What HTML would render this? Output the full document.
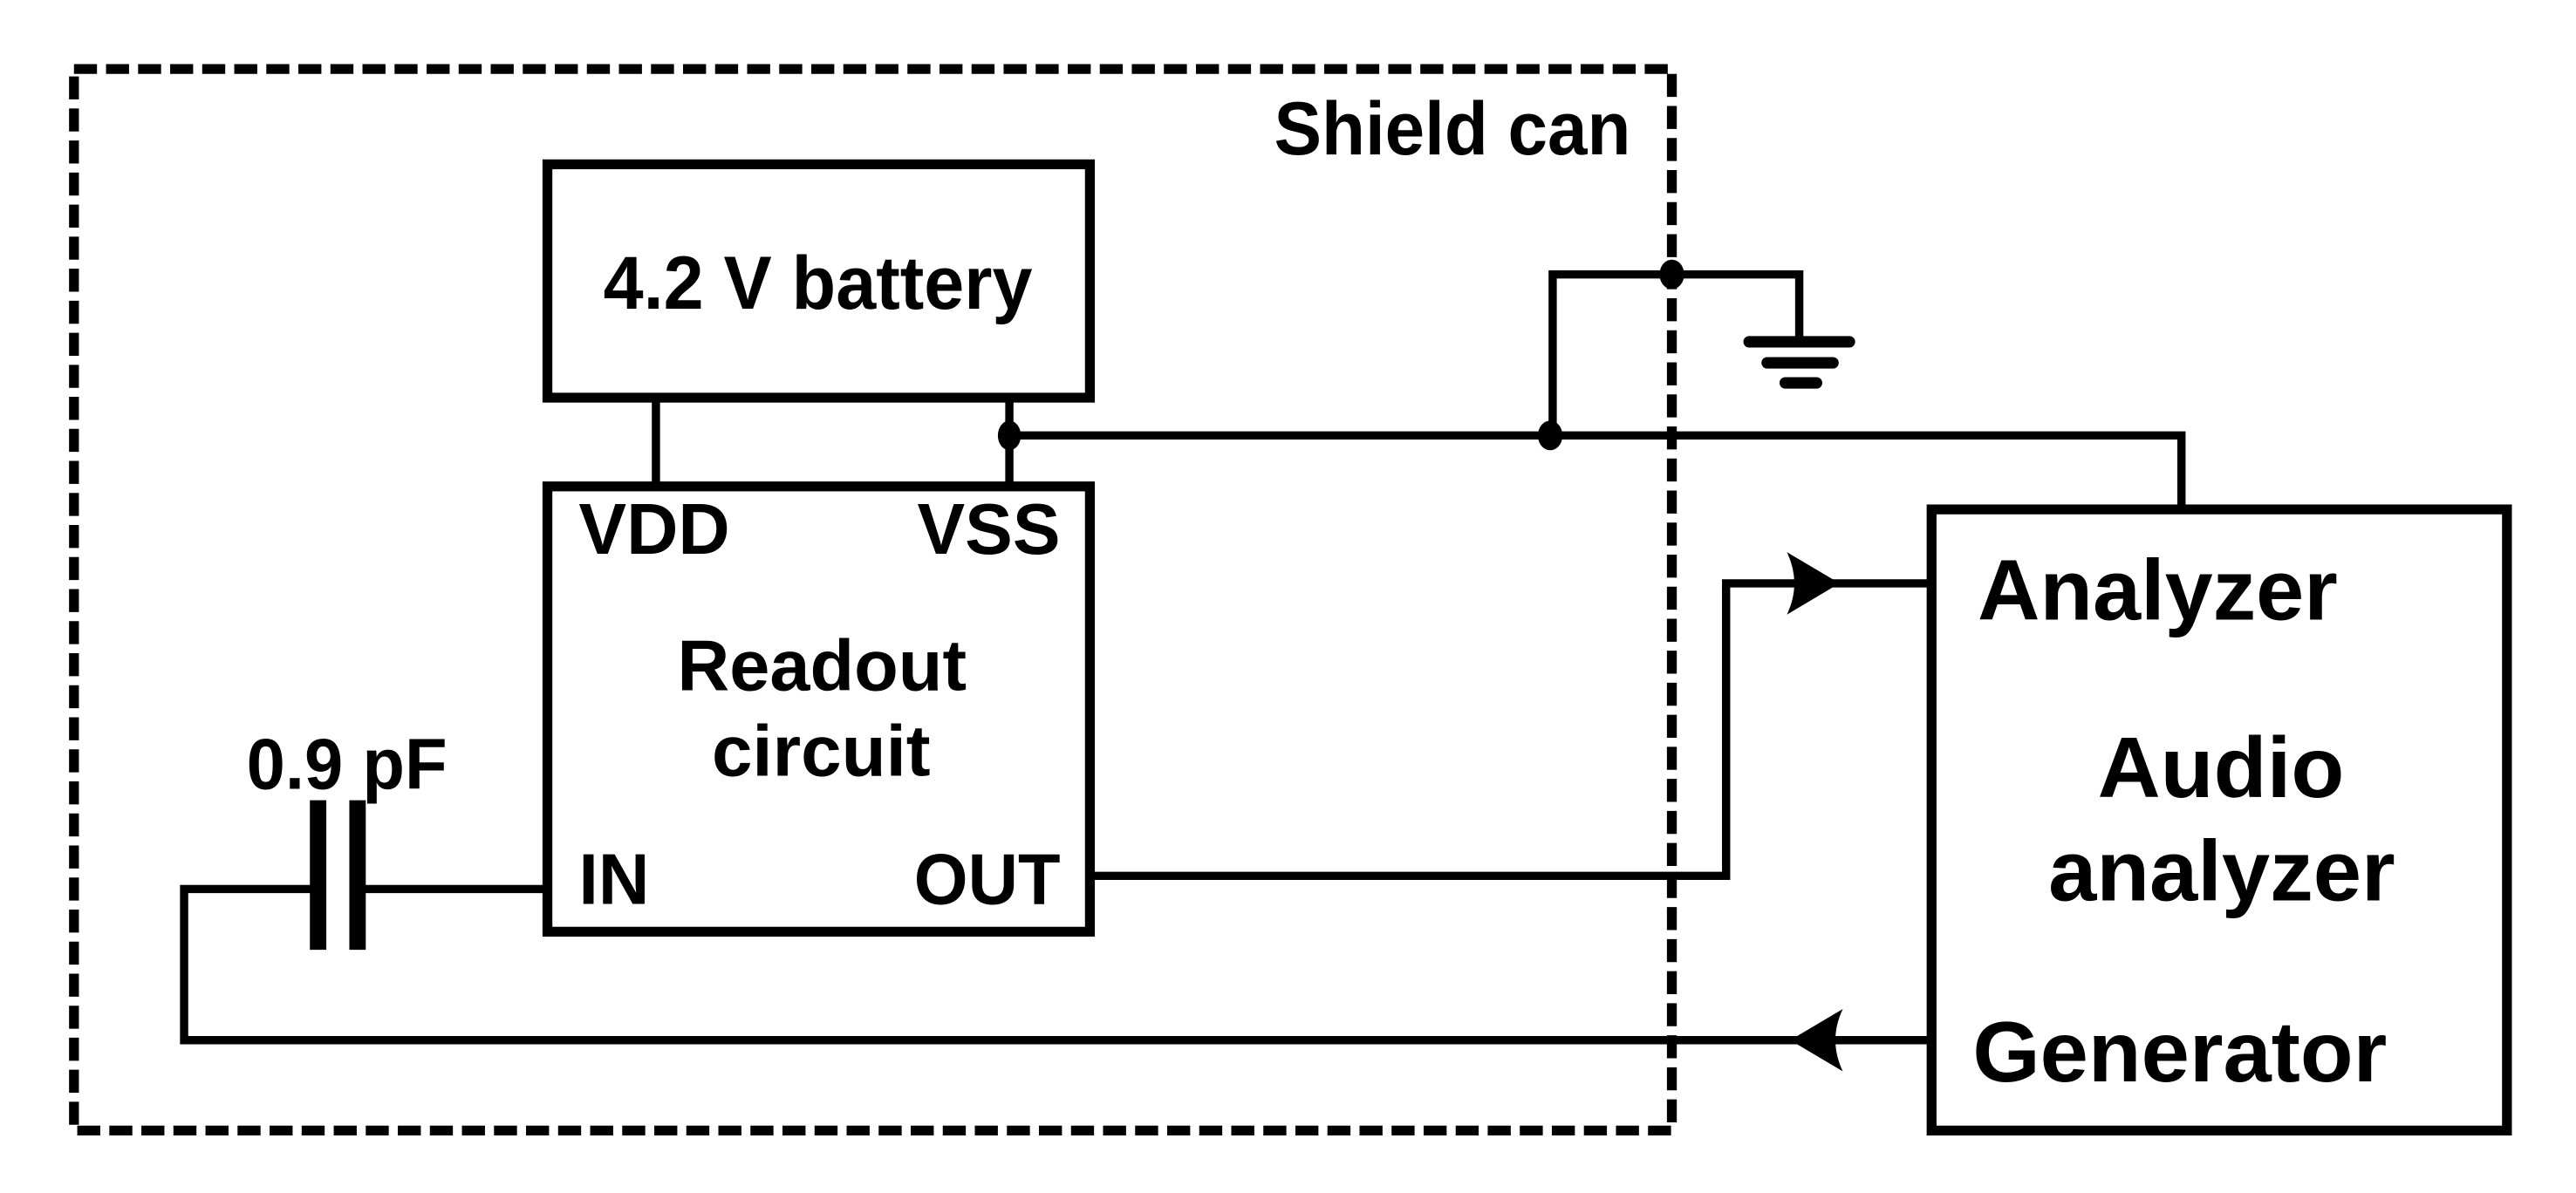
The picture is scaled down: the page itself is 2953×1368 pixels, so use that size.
<!DOCTYPE html>
<html><head><meta charset="utf-8"><style>html,body{margin:0;padding:0;background:#fff}svg{display:block}</style></head>
<body>
<svg width="2953" height="1368" viewBox="0 0 1567 726" preserveAspectRatio="none" xmlns="http://www.w3.org/2000/svg">
<g fill="none" stroke="#000">
<rect x="45" y="42" width="972" height="646" stroke-width="6" stroke-dasharray="14 5.5"/>
<rect x="333" y="100" width="330" height="142" stroke-width="6"/>
<rect x="333" y="296" width="330" height="271" stroke-width="6"/>
<rect x="1175" y="310" width="350" height="378" stroke-width="6"/>
<g stroke-width="5">
<line x1="399" y1="242" x2="399" y2="296"/>
<line x1="614" y1="242" x2="614" y2="296"/>
<polyline points="614,265 1327,265 1327,310"/>
<polyline points="944.5,265 944.5,167 1094.5,167 1094.5,208"/>
<polyline points="663,533 1050,533 1050,355 1175,355"/>
<polyline points="1175,633 112,633 112,541 193,541"/>
<line x1="217" y1="541" x2="333" y2="541"/>
</g>
<g stroke-width="7" stroke-linecap="round">
<line x1="1064" y1="208" x2="1125" y2="208"/>
<line x1="1075" y1="220.8" x2="1115" y2="220.8"/>
<line x1="1086" y1="233" x2="1105" y2="233"/>
</g>
<line x1="193.5" y1="487" x2="193.5" y2="578" stroke-width="10"/>
<line x1="217.5" y1="487" x2="217.5" y2="578" stroke-width="10"/>
</g>
<g fill="#000">
<ellipse cx="614" cy="265" rx="7" ry="9"/>
<ellipse cx="943" cy="265" rx="7.5" ry="9"/>
<ellipse cx="1017" cy="167" rx="7.5" ry="9"/>
<path d="M1119,355 L1087,336 Q1096,355 1087,374 Z"/>
<path d="M1089,633 L1121,614 Q1112,633 1121,652 Z"/>
</g>
<g font-family="Liberation Sans, Arial, sans-serif" font-weight="bold" fill="#000" font-size="44">
<text x="775" y="94" textLength="217" lengthAdjust="spacingAndGlyphs" font-size="46">Shield can</text>
<text x="367" y="188" textLength="261" lengthAdjust="spacingAndGlyphs" font-size="46">4.2 V battery</text>
<text x="352" y="337" textLength="92" lengthAdjust="spacingAndGlyphs">VDD</text>
<text x="558" y="337" textLength="87" lengthAdjust="spacingAndGlyphs">VSS</text>
<text x="412" y="420" textLength="176" lengthAdjust="spacingAndGlyphs">Readout</text>
<text x="433" y="472" textLength="133" lengthAdjust="spacingAndGlyphs">circuit</text>
<text x="352" y="550" textLength="43" lengthAdjust="spacingAndGlyphs">IN</text>
<text x="556" y="550" textLength="89" lengthAdjust="spacingAndGlyphs">OUT</text>
<text x="150" y="480" textLength="122" lengthAdjust="spacingAndGlyphs">0.9 pF</text>
<text x="1203" y="377" textLength="219" lengthAdjust="spacingAndGlyphs" font-size="52">Analyzer</text>
<text x="1276" y="485" textLength="150" lengthAdjust="spacingAndGlyphs" font-size="52">Audio</text>
<text x="1246" y="548" textLength="211" lengthAdjust="spacingAndGlyphs" font-size="52">analyzer</text>
<text x="1200" y="658" textLength="252" lengthAdjust="spacingAndGlyphs" font-size="52">Generator</text>
</g>
</svg>
</body></html>
